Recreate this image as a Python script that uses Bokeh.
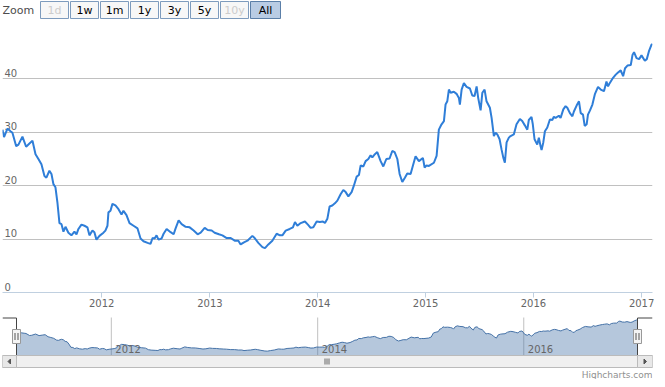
import numpy as np
import pandas as pd
from bokeh.plotting import figure
from bokeh.layouts import column
from bokeh.models import Range1d, FixedTicker, DatetimeTickFormatter, Grid
from bokeh.core.properties import value
from bokeh.embed import file_html
from bokeh.resources import INLINE

# ---------------- data ----------------
t_year = [
    2011.080, 2011.094, 2011.126, 2011.154, 2011.172, 2011.207, 2011.228, 2011.265, 2011.299, 2011.330,
    2011.358, 2011.386, 2011.413, 2011.441, 2011.469, 2011.487, 2011.515, 2011.534, 2011.552, 2011.571,
    2011.589, 2011.608, 2011.627, 2011.645, 2011.664, 2011.691, 2011.719, 2011.747, 2011.766, 2011.784,
    2011.812, 2011.840, 2011.867, 2011.886, 2011.914, 2011.932, 2011.951, 2011.979, 2012.016, 2012.034,
    2012.053, 2012.062, 2012.081, 2012.099, 2012.127, 2012.155, 2012.183, 2012.201, 2012.229, 2012.257,
    2012.294, 2012.331, 2012.359, 2012.386, 2012.424, 2012.451, 2012.470, 2012.489, 2012.507, 2012.525,
    2012.553, 2012.572, 2012.600, 2012.637, 2012.665, 2012.683, 2012.711, 2012.739, 2012.776, 2012.813,
    2012.850, 2012.887, 2012.915, 2012.952, 2012.980, 2013.017, 2013.044, 2013.084, 2013.116, 2013.156,
    2013.193, 2013.230, 2013.264, 2013.285, 2013.316, 2013.348, 2013.394, 2013.415, 2013.449, 2013.487,
    2013.511, 2013.542, 2013.579, 2013.619, 2013.650, 2013.672, 2013.703, 2013.740, 2013.770, 2013.789,
    2013.811, 2013.842, 2013.881, 2013.909, 2013.934, 2013.959, 2013.990, 2014.020, 2014.048, 2014.067,
    2014.089, 2014.110, 2014.135, 2014.159, 2014.182, 2014.212, 2014.237, 2014.259, 2014.284, 2014.314,
    2014.335, 2014.361, 2014.382, 2014.398, 2014.423, 2014.444, 2014.469, 2014.490, 2014.506, 2014.530,
    2014.552, 2014.583, 2014.608, 2014.636, 2014.666, 2014.691, 2014.713, 2014.738, 2014.759, 2014.784,
    2014.808, 2014.830, 2014.861, 2014.886, 2014.907, 2014.938, 2014.975, 2014.991, 2015.009, 2015.031,
    2015.077, 2015.102, 2015.123, 2015.148, 2015.170, 2015.185, 2015.201, 2015.216, 2015.232, 2015.262,
    2015.287, 2015.309, 2015.318, 2015.334, 2015.355, 2015.380, 2015.411, 2015.433, 2015.454, 2015.473,
    2015.488, 2015.510, 2015.526, 2015.547, 2015.565, 2015.596, 2015.612, 2015.633, 2015.649, 2015.665,
    2015.686, 2015.704, 2015.720, 2015.735, 2015.751, 2015.772, 2015.788, 2015.818, 2015.843, 2015.874,
    2015.896, 2015.920, 2015.943, 2015.957, 2015.982, 2015.994, 2016.010, 2016.035, 2016.050, 2016.066,
    2016.075, 2016.091, 2016.106, 2016.128, 2016.152, 2016.174, 2016.189, 2016.205, 2016.235, 2016.251,
    2016.276, 2016.297, 2016.313, 2016.337, 2016.360, 2016.374, 2016.399, 2016.421, 2016.437, 2016.458,
    2016.474, 2016.492, 2016.504, 2016.523, 2016.545, 2016.569, 2016.597, 2016.622, 2016.652, 2016.675,
    2016.690, 2016.705, 2016.736, 2016.761, 2016.782, 2016.807, 2016.829, 2016.847, 2016.869, 2016.900,
    2016.916, 2016.930, 2016.953, 2016.977, 2016.999, 2017.030, 2017.048, 2017.070, 2017.092, 2017.101,
]
price = [
    30.5, 29.1, 30.7, 30.2, 29.9, 27.4, 27.7, 29.2, 27.3, 27.9,
    28.4, 25.9, 25.0, 24.0, 21.8, 21.5, 22.8, 22.2, 20.3, 19.7,
    16.9, 13.0, 12.8, 11.4, 12.3, 11.2, 10.7, 11.4, 10.9, 11.9,
    12.7, 12.5, 12.2, 10.7, 11.6, 11.3, 9.9, 10.6, 11.2, 11.6,
    12.5, 15.0, 15.3, 16.6, 16.3, 15.6, 14.6, 15.3, 14.5, 13.0,
    12.5, 12.0, 10.1, 9.6, 9.3, 9.1, 10.2, 10.1, 10.7, 9.9,
    10.1, 11.0, 11.9, 11.3, 10.9, 12.0, 13.5, 12.8, 12.3, 12.2,
    11.6, 10.9, 11.2, 12.1, 11.7, 11.6, 11.2, 10.9, 10.7, 10.2,
    10.2, 9.7, 9.7, 9.0, 9.4, 9.7, 10.6, 10.2, 9.3, 8.5,
    8.3, 9.0, 9.7, 11.0, 10.7, 10.7, 11.6, 11.9, 12.2, 13.2,
    12.5, 13.0, 13.3, 12.7, 12.1, 12.2, 13.3, 13.2, 13.3, 13.0,
    13.8, 16.1, 16.3, 16.7, 17.2, 18.4, 19.2, 18.8, 18.0, 18.8,
    20.0, 21.7, 22.0, 23.8, 23.6, 24.6, 25.0, 25.7, 25.3, 25.9,
    26.3, 24.6, 23.6, 25.0, 25.1, 26.5, 26.3, 25.0, 22.2, 20.7,
    21.5, 22.3, 22.2, 24.0, 25.5, 24.6, 25.2, 23.4, 23.8, 23.7,
    24.3, 25.6, 30.5, 31.5, 32.1, 35.2, 35.8, 38.0, 37.4, 37.6,
    37.2, 36.4, 35.2, 38.0, 39.2, 38.5, 38.2, 36.9, 36.8, 38.6,
    36.4, 34.1, 37.4, 38.0, 35.8, 34.6, 32.7, 29.3, 29.9, 29.6,
    28.7, 26.8, 25.3, 24.3, 28.1, 29.0, 29.3, 29.6, 31.5, 32.5,
    32.1, 31.3, 30.5, 32.3, 32.9, 31.5, 28.7, 27.7, 29.0, 27.4,
    26.7, 28.1, 30.2, 30.9, 32.4, 32.3, 32.9, 32.7, 33.1, 32.7,
    34.3, 34.9, 34.6, 33.6, 33.0, 33.9, 35.0, 35.8, 33.6, 33.3,
    31.2, 31.5, 33.3, 34.1, 35.2, 37.2, 38.5, 38.0, 37.7, 39.5,
    38.6, 39.2, 40.2, 40.8, 41.2, 41.6, 40.5, 42.0, 42.5, 42.6,
    44.5, 45.0, 43.9, 43.7, 44.4, 43.4, 43.7, 45.3, 46.4, 46.5,
]
x_tick_years = [2012, 2013, 2014, 2015, 2016, 2017]
nav_tick_years = [2012, 2014, 2016]
y_label_ticks = [0, 10, 20, 30, 40]
y_grid_ticks = [10, 20, 30, 40, 50]
zoom_buttons = ["1d", "1w", "1m", "1y", "3y", "5y", "10y", "All"]
button_state = ["disabled", "normal", "normal", "normal", "normal", "normal", "disabled", "selected"]


def to_dt(y):
    yr = int(np.floor(y))
    frac = y - yr
    a = pd.Timestamp(yr, 1, 1)
    b = pd.Timestamp(yr + 1, 1, 1)
    return a + (b - a) * frac


dates = [to_dt(t) for t in t_year]
year_dates = [pd.Timestamp(y, 1, 1) for y in x_tick_years]
nav_year_dates = [pd.Timestamp(y, 1, 1) for y in nav_tick_years]

FONT = value("DejaVu Sans")
W, H = 657, 379
BL, BR = 2, 5            # shared left / right borders -> frame spans x 2..652
FX0, FX1 = BL, W - BR    # frame extent in page pixels

common = dict(output_backend="svg", toolbar_location=None,
              min_border_left=BL, min_border_right=BR)

# ---------------- range selector strip ----------------
SH = 22
sel = figure(width=W, height=SH, x_range=Range1d(FX0, FX1), y_range=Range1d(SH, 0),
             x_axis_location=None, y_axis_location=None,
             min_border_top=0, min_border_bottom=0, **common)
sel.grid.visible = False
sel.outline_line_color = None

sel.text(x=[2], y=[10], text=["Zoom"], text_font=FONT, text_font_size="11px",
         text_color="#4d4d4d", text_align="left", text_baseline="middle")

bw = [28, 28, 28, 28, 28, 28, 28, 30]
lefts = [40 + 30 * i for i in range(len(zoom_buttons))]
rights = [l + w for l, w in zip(lefts, bw)]
fills = {"normal": "#f7f7f7", "disabled": "#f7f7f7", "selected": "#b9cce4"}
borders = {"normal": "#7d9bbd", "disabled": "#7d9bbd", "selected": "#5b7fa8"}
tcolors = {"normal": "#000000", "disabled": "#cccccc", "selected": "#000000"}
sel.quad(left=lefts, right=rights, top=1, bottom=18,
         fill_color=[fills[s] for s in button_state],
         line_color=[borders[s] for s in button_state], line_width=1)
sel.text(x=[(l + r) / 2 for l, r in zip(lefts, rights)], y=[10] * len(zoom_buttons),
         text=zoom_buttons, text_font=FONT, text_font_size="11px",
         text_color=[tcolors[s] for s in button_state],
         text_align="center", text_baseline="middle")

# ---------------- main chart ----------------
MT, MF, MB = 3, 267, 20   # top border, frame height, bottom border
main = figure(width=W, height=MT + MF + MB, x_axis_type="datetime",
              x_range=Range1d(dates[0], dates[-1]), y_range=Range1d(0, 50),
              y_axis_location=None, min_border_top=MT, min_border_bottom=MB, **common)
main.outline_line_color = None
main.grid.visible = False
main.add_layout(Grid(dimension=1, ticker=FixedTicker(ticks=y_grid_ticks),
                     grid_line_color="#c0c0c0", grid_line_width=1))

xa = main.xaxis[0]
xa.ticker = FixedTicker(ticks=[d.value / 1e6 for d in year_dates])
fmt = "%Y"
xa.formatter = DatetimeTickFormatter(microseconds=fmt, milliseconds=fmt, seconds=fmt, minsec=fmt,
                                     minutes=fmt, hourmin=fmt, hours=fmt, days=fmt,
                                     months=fmt, years=fmt)
xa.axis_line_color = "#c0d0e0"
xa.major_tick_line_color = "#c0d0e0"
xa.major_tick_out = 5
xa.major_tick_in = 0
xa.minor_tick_line_color = None
xa.major_label_standoff = 1
xa.major_label_text_color = "#666666"
xa.major_label_text_font = "DejaVu Sans"
xa.major_label_text_font_size = "10px"

main.text(x=[dates[0]] * len(y_label_ticks), y=y_label_ticks,
          text=[str(v) for v in y_label_ticks], x_offset=2, y_offset=-2,
          text_font=FONT, text_font_size="10px", text_color="#666666",
          text_align="left", text_baseline="bottom")

main.line(dates, price, line_color="#2f7ed8", line_width=2)

# ---------------- navigator + scrollbar ----------------
NH = H - SH - (MT + MF + MB)   # remaining height
nav = figure(width=W, height=NH, x_range=Range1d(FX0, FX1), y_range=Range1d(NH, 0),
             x_axis_location=None, y_axis_location=None,
             min_border_top=0, min_border_bottom=0, **common)
nav.grid.visible = False
nav.outline_line_color = None

NAV_L, NAV_R, NAV_T, NAV_B = 16, 637, 5, 43
t0 = dates[0].value / 1e6
t1 = dates[-1].value / 1e6
per = (t1 - t0) / (NAV_R - NAV_L)
nav.extra_x_ranges = {"t": Range1d(t0 - (NAV_L - FX0) * per, t1 + (FX1 - NAV_R) * per)}
nav_lo, nav_hi = 3.0, 49.4
vper = (nav_hi - nav_lo) / (NAV_B - NAV_T)
nav.extra_y_ranges = {"v": Range1d(nav_lo - (NH - NAV_B) * vper, nav_hi + NAV_T * vper)}

# navigator grid lines, series, labels
nav.segment(x0=nav_year_dates, x1=nav_year_dates, y0=NAV_T, y1=NAV_B,
            x_range_name="t", line_color="#c0c0c0", line_width=1)
nav.varea(x=dates, y1=nav_lo, y2=price, x_range_name="t", y_range_name="v",
          fill_color="#4572a7", fill_alpha=0.4)
nav.line(dates, price, x_range_name="t", y_range_name="v", line_color="#4572a7", line_width=1)
nav.text(x=nav_year_dates, y=[36] * len(nav_year_dates), text=[str(y) for y in nav_tick_years],
         x_range_name="t", x_offset=4, text_font=FONT, text_font_size="10px",
         text_color="#666666", text_align="left", text_baseline="middle")

# navigator outline
nav.line(x=[FX0, NAV_L, NAV_L], y=[NAV_T + 0.5, NAV_T + 0.5, NAV_B], line_color="#444444", line_width=1)
nav.line(x=[NAV_R, NAV_R, FX1], y=[NAV_B, NAV_T + 0.5, NAV_T + 0.5], line_color="#444444", line_width=1)

# scrollbar
SB_T, SB_B = NAV_B, NAV_B + 12
nav.quad(left=FX0, right=FX1, top=SB_T, bottom=SB_B, fill_color="#eeeeee", line_color="#bbbbbb")
nav.quad(left=NAV_L, right=NAV_R, top=SB_T, bottom=SB_B, fill_color="#f0f0f0", line_color="#bbbbbb")
nav.quad(left=FX0, right=NAV_L, top=SB_T, bottom=SB_B, fill_color="#e8e8e8", line_color="#bbbbbb")
nav.quad(left=NAV_R, right=FX1, top=SB_T, bottom=SB_B, fill_color="#e8e8e8", line_color="#bbbbbb")
mid = (SB_T + SB_B) / 2
lx = (FX0 + NAV_L) / 2
rx = (NAV_R + FX1) / 2
nav.patch(x=[lx - 1.5, lx + 1, lx + 1], y=[mid, mid - 2.5, mid + 2.5], fill_color="#555555", line_color="#555555")
nav.patch(x=[rx + 1.5, rx - 1, rx - 1], y=[mid, mid - 2.5, mid + 2.5], fill_color="#555555", line_color="#555555")
gx = (NAV_L + NAV_R) / 2
nav.segment(x0=[gx - 2, gx, gx + 2], x1=[gx - 2, gx, gx + 2], y0=mid - 3, y1=mid + 3,
            line_color="#666666", line_width=1)

# handles
HT, HB = 17, 31
for hx in (NAV_L, NAV_R):
    nav.quad(left=hx - 4, right=hx + 4, top=HT, bottom=HB, fill_color="#f4f4f4", line_color="#999999")
    nav.segment(x0=[hx - 1.5, hx + 1.5], x1=[hx - 1.5, hx + 1.5], y0=HT + 3.5, y1=HB - 3.5,
                line_color="#555555", line_width=1)

# credits
nav.text(x=[FX1], y=[NH - 5], text=["Highcharts.com"], text_font=FONT, text_font_size="9px",
         text_color="#909090", text_align="right", text_baseline="alphabetic")

layout = column(sel, main, nav)
open("out.html", "w").write(file_html(layout, INLINE))
